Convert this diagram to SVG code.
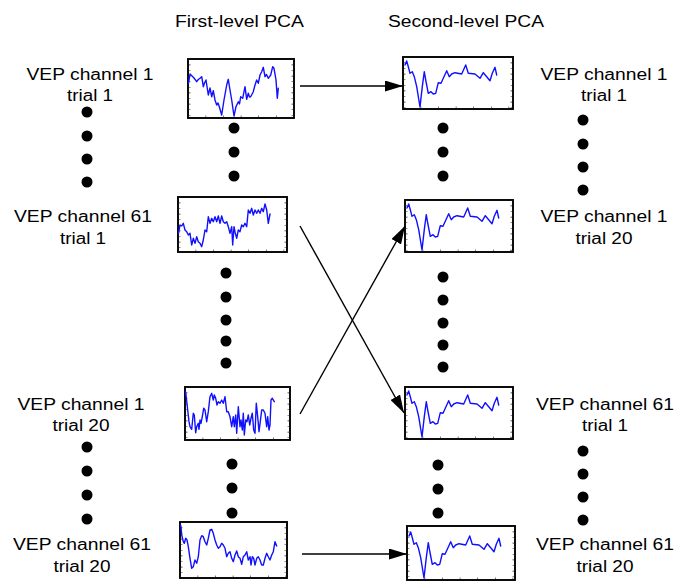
<svg xmlns="http://www.w3.org/2000/svg" xmlns:xlink="http://www.w3.org/1999/xlink" width="675" height="584" viewBox="0 0 675 584">
  <style>
    text { font-family: "Liberation Sans", Arial, sans-serif; font-size: 16px; fill: #000; text-anchor: middle; }
    .frame { fill: #fff; stroke: #000; stroke-width: 1.9; }
    .tickh { stroke: #222; stroke-width: 2; stroke-dasharray: 0.6 17; fill: none; }
    .tickv { stroke: #222; stroke-width: 2; stroke-dasharray: 0.6 5; fill: none; }
    .wave { fill: none; stroke: #1010ff; stroke-width: 1.4; stroke-linejoin: round; stroke-linecap: round; }
    .dot { fill: #000; }
    .conn { stroke: #000; stroke-width: 1.4; fill: none; marker-end: url(#head); }
  </style>
  <defs>
    <marker id="head" markerUnits="userSpaceOnUse" markerWidth="18" markerHeight="11" refX="18" refY="5.5" orient="auto">
      <path d="M0,0 L18,5.5 L0,11 Z" fill="#000"/>
    </marker>
    <!-- averaged response used in every second-level plot (local coords, 110 x 52 frame) -->
    <path id="avg" class="wave" d="M2,8 L3.7,4 L5.3,9.7 L7,16.3 L9.3,14.7 L11.3,19.7 L13.7,29.7 L17,50 L19.3,29.7 L21.3,14.7 L22.7,23 L25.3,36.3 L28,34.7 L30.3,37 L32.7,36.3 L35.3,25.7 L38,26.3 L40.3,21.3 L43.7,13.7 L46.3,19.7 L48.7,17 L52,15.7 L58.7,17 L62.7,8 L65.3,16.3 L72,17 L77,21.3 L80.3,15.7 L83.7,19.7 L87,23.7 L89.3,16.3 L92,10.3 L93.7,18"/>
  </defs>

  <!-- column headers -->
  <g id="hdr-first"><text x="239.5" y="27" textLength="129" lengthAdjust="spacingAndGlyphs">First-level PCA</text></g>
  <g id="hdr-second"><text x="466" y="27" textLength="156" lengthAdjust="spacingAndGlyphs">Second-level PCA</text></g>

  <!-- input labels (left) -->
  <g id="in-c1-t1">
    <text x="90" y="80" textLength="127" lengthAdjust="spacingAndGlyphs">VEP channel 1</text>
    <text x="90" y="101" textLength="46" lengthAdjust="spacingAndGlyphs">trial 1</text>
  </g>
  <g id="in-c61-t1">
    <text x="83" y="222" textLength="138" lengthAdjust="spacingAndGlyphs">VEP channel 61</text>
    <text x="83" y="244" textLength="46" lengthAdjust="spacingAndGlyphs">trial 1</text>
  </g>
  <g id="in-c1-t20">
    <text x="81" y="410" textLength="127" lengthAdjust="spacingAndGlyphs">VEP channel 1</text>
    <text x="81" y="431" textLength="57" lengthAdjust="spacingAndGlyphs">trial 20</text>
  </g>
  <g id="in-c61-t20">
    <text x="82" y="550" textLength="138" lengthAdjust="spacingAndGlyphs">VEP channel 61</text>
    <text x="82" y="572" textLength="57" lengthAdjust="spacingAndGlyphs">trial 20</text>
  </g>

  <!-- output labels (right) -->
  <g id="out-c1-t1">
    <text x="604" y="80" textLength="127" lengthAdjust="spacingAndGlyphs">VEP channel 1</text>
    <text x="604" y="101" textLength="46" lengthAdjust="spacingAndGlyphs">trial 1</text>
  </g>
  <g id="out-c1-t20">
    <text x="604" y="222" textLength="127" lengthAdjust="spacingAndGlyphs">VEP channel 1</text>
    <text x="604" y="244" textLength="57" lengthAdjust="spacingAndGlyphs">trial 20</text>
  </g>
  <g id="out-c61-t1">
    <text x="605" y="410" textLength="138" lengthAdjust="spacingAndGlyphs">VEP channel 61</text>
    <text x="605" y="431" textLength="46" lengthAdjust="spacingAndGlyphs">trial 1</text>
  </g>
  <g id="out-c61-t20">
    <text x="605" y="550" textLength="138" lengthAdjust="spacingAndGlyphs">VEP channel 61</text>
    <text x="605" y="572" textLength="57" lengthAdjust="spacingAndGlyphs">trial 20</text>
  </g>

  <!-- first-level plots -->
  <g id="pca1-c1-t1" transform="translate(188,59)">
    <rect class="frame" width="106" height="59"/>
    <line class="tickh" x1="0" y1="57.5" x2="106" y2="57.5"/>
    <line class="tickv" x1="1.5" y1="0" x2="1.5" y2="59"/>
    <line class="tickv" x1="104.5" y1="0" x2="104.5" y2="59"/>
    <path class="wave" d="M0.5,24.3 L2,15 L4,17 L6,19 L8.7,22.7 L10.3,20.5 L12,19.3 L13.7,17.7 L15.3,27.7 L16.5,24 L18,21 L20.3,36 L22,29 L23.7,37.7 L25.3,31.7 L27,41 L28.7,46 L30,44 L31.3,47.7 L33.7,56 L36,41 L38.7,26 L40.3,20.3 L42,31 L43.7,41 L46,57 L48,47.7 L50.3,42.7 L51.5,45 L52.7,37.7 L54.7,39.3 L57,27.7 L58.7,40.3 L60.3,34.3 L61.5,38 L62.7,37.7 L65.3,32.7 L67,26 L68.7,21 L70.3,24.3 L72,16 L73.7,12.7 L75.3,8.3 L77,17.7 L78.5,15.5 L80.3,19.3 L82.7,16 L84.7,7.7 L86,9.3 L88,21 L89.3,39.3 L90.3,29.3"/>
  </g>
  <g id="pca1-c61-t1" transform="translate(178,197)">
    <rect class="frame" width="109" height="55"/>
    <line class="tickh" x1="0" y1="53.5" x2="109" y2="53.5"/>
    <line class="tickv" x1="1.5" y1="0" x2="1.5" y2="55"/>
    <line class="tickv" x1="107.5" y1="0" x2="107.5" y2="55"/>
    <path class="wave" d="M0.5,36.3 L2,28 L3.7,29 L5.3,26.3 L7,33 L8.7,34.7 L10.3,38 L12,36.3 L13.7,48 L15.3,41.3 L17,46.3 L18.7,39.7 L20.3,44.7 L22,46.3 L23.7,49.7 L25.3,43 L27,33 L28.7,34.7 L30.3,19.7 L32,26.3 L33.7,21.3 L35.3,24.7 L37,19.7 L38.7,24.7 L40.3,19 L42,26.3 L43.7,19 L45.3,24.7 L47,26.3 L48.7,24.7 L50.3,29.7 L52,36.3 L53.7,29.7 L54.7,48 L56,29.7 L57.3,36.3 L58.7,41.3 L60.3,33 L62,34.7 L63.7,28 L65.3,29.7 L67,26.3 L68.7,29.7 L70.3,13 L72,16.3 L73.7,11.3 L75.3,18 L77,13 L78.7,16.3 L80.3,13 L82,16.3 L83.7,11.3 L85.3,14.7 L87,7 L88.7,13 L90.3,26.3 L92,17"/>
  </g>
  <g id="pca1-c1-t20" transform="translate(185,387)">
    <rect class="frame" width="105" height="53"/>
    <line class="tickh" x1="0" y1="51.5" x2="105" y2="51.5"/>
    <line class="tickv" x1="1.5" y1="0" x2="1.5" y2="53"/>
    <line class="tickv" x1="103.5" y1="0" x2="103.5" y2="53"/>
    <path class="wave" d="M0.5,4.7 L1,8 L2.7,23 L4,34.7 L5,39.7 L6.7,42.3 L8.3,26.3 L9.3,28 L10.7,45.7 L11.7,39.7 L13.3,36.3 L14,42.3 L15,33 L16,36.3 L17.3,29.7 L18.7,21.3 L20,23 L21.7,34.7 L23.3,24.7 L25,9.7 L26.7,6.3 L28.3,13 L29.3,8 L30.7,11.3 L32,18 L33.3,14.7 L35,16.3 L36.7,13 L38.3,16.3 L40,9.7 L41.7,24.7 L43.3,24.7 L45,29.7 L46.7,39.7 L48.3,29.7 L49.3,39.7 L50.7,28 L51.7,46.3 L53.3,19.7 L55,39.7 L56,33 L57.3,43 L58.3,26.3 L59.3,48 L60.7,33 L62,34.7 L63.3,28 L64.7,38 L66,31.3 L67.3,26.3 L68.7,43 L70,46.3 L71.3,16.3 L72.7,29.7 L74,44.7 L75.3,34.7 L76.7,23 L78.3,23 L80,26.3 L81.7,39.7 L82.7,29.7 L84,43 L85,38 L86,13 L87.3,11.3 L89.3,14.7"/>
  </g>
  <g id="pca1-c61-t20" transform="translate(180,522)">
    <rect class="frame" width="107" height="56"/>
    <line class="tickh" x1="0" y1="54.5" x2="107" y2="54.5"/>
    <line class="tickv" x1="1.5" y1="0" x2="1.5" y2="56"/>
    <line class="tickv" x1="105.5" y1="0" x2="105.5" y2="56"/>
    <path class="wave" d="M0.5,3 L1,4.7 L1.7,13 L3.3,19.7 L4.3,21.3 L5.7,16.3 L7,18 L8.3,24.7 L10,36.3 L11.7,46.3 L13.3,44.7 L15,38 L16.7,41.3 L18.3,34.7 L20,18 L21.7,13.7 L23.3,14.7 L25,19.7 L26.7,23 L28.3,16.3 L30,8 L31.7,7.3 L33.3,11.3 L35,18 L36.7,23 L38.3,26.3 L40,24.7 L41.7,21.3 L43.3,23 L45,26.3 L46.7,34.7 L48.3,31.3 L50,29.7 L51.7,36.3 L53.3,39.7 L55,33 L56.7,29 L58.3,34.7 L60,36.3 L61.7,42.3 L63.3,34.7 L65,33 L66.7,29.7 L68.3,38 L70,34.7 L71,43 L72.3,34.7 L73.7,36.3 L75,43 L76.7,36.3 L78.3,34.7 L80,38 L81.7,43 L83.3,43 L85,36.3 L86.7,31.3 L88.3,34.7 L90,38 L91.7,33 L93.3,29.7 L95,19.7 L96.7,24"/>
  </g>

  <!-- second-level plots -->
  <g id="pca2-c1-t1" transform="translate(403,57)">
    <rect class="frame" width="110" height="52"/>
    <line class="tickh" x1="0" y1="50.5" x2="110" y2="50.5"/>
    <line class="tickv" x1="1.5" y1="0" x2="1.5" y2="52"/>
    <line class="tickv" x1="108.5" y1="0" x2="108.5" y2="52"/>
    <use xlink:href="#avg"/>
  </g>
  <g id="pca2-c1-t20" transform="translate(405,200)">
    <rect class="frame" width="108" height="52"/>
    <line class="tickh" x1="0" y1="50.5" x2="108" y2="50.5"/>
    <line class="tickv" x1="1.5" y1="0" x2="1.5" y2="52"/>
    <line class="tickv" x1="106.5" y1="0" x2="106.5" y2="52"/>
    <use xlink:href="#avg"/>
  </g>
  <g id="pca2-c61-t1" transform="translate(405,387)">
    <rect class="frame" width="108" height="52"/>
    <line class="tickh" x1="0" y1="50.5" x2="108" y2="50.5"/>
    <line class="tickv" x1="1.5" y1="0" x2="1.5" y2="52"/>
    <line class="tickv" x1="106.5" y1="0" x2="106.5" y2="52"/>
    <use xlink:href="#avg"/>
  </g>
  <g id="pca2-c61-t20" transform="translate(407,526)">
    <rect class="frame" width="108" height="54"/>
    <line class="tickh" x1="0" y1="52.5" x2="108" y2="52.5"/>
    <line class="tickv" x1="1.5" y1="0" x2="1.5" y2="54"/>
    <line class="tickv" x1="106.5" y1="0" x2="106.5" y2="54"/>
    <use xlink:href="#avg" transform="translate(0,2)"/>
  </g>

  <!-- ellipsis dots -->
  <g id="dots-in-top"><circle class="dot" cx="87" cy="112" r="5.5"/><circle class="dot" cx="87" cy="136" r="5.5"/><circle class="dot" cx="87" cy="159" r="5.5"/><circle class="dot" cx="87" cy="182" r="5.5"/></g>
  <g id="dots-in-bottom"><circle class="dot" cx="87" cy="447" r="5.5"/><circle class="dot" cx="87" cy="471" r="5.5"/><circle class="dot" cx="87" cy="495" r="5.5"/><circle class="dot" cx="87" cy="519" r="5.5"/></g>
  <g id="dots-pca1-top"><circle class="dot" cx="234" cy="128" r="5.5"/><circle class="dot" cx="234" cy="152" r="5.5"/><circle class="dot" cx="234" cy="176" r="5.5"/></g>
  <g id="dots-pca1-mid"><circle class="dot" cx="226" cy="273" r="5.5"/><circle class="dot" cx="226" cy="297" r="5.5"/><circle class="dot" cx="226" cy="320" r="5.5"/><circle class="dot" cx="226" cy="341" r="5.5"/><circle class="dot" cx="226" cy="363" r="5.5"/></g>
  <g id="dots-pca1-bottom"><circle class="dot" cx="232" cy="464" r="5.5"/><circle class="dot" cx="232" cy="488" r="5.5"/><circle class="dot" cx="232" cy="513" r="5.5"/></g>
  <g id="dots-pca2-top"><circle class="dot" cx="443" cy="128" r="5.5"/><circle class="dot" cx="443" cy="152" r="5.5"/><circle class="dot" cx="443" cy="176" r="5.5"/></g>
  <g id="dots-pca2-mid"><circle class="dot" cx="443" cy="277" r="5.5"/><circle class="dot" cx="443" cy="300" r="5.5"/><circle class="dot" cx="443" cy="323" r="5.5"/><circle class="dot" cx="443" cy="345" r="5.5"/><circle class="dot" cx="443" cy="367" r="5.5"/></g>
  <g id="dots-pca2-bottom"><circle class="dot" cx="438" cy="465" r="5.5"/><circle class="dot" cx="438" cy="489" r="5.5"/><circle class="dot" cx="438" cy="513" r="5.5"/></g>
  <g id="dots-out-top"><circle class="dot" cx="583" cy="120" r="5.5"/><circle class="dot" cx="583" cy="144" r="5.5"/><circle class="dot" cx="583" cy="167" r="5.5"/><circle class="dot" cx="583" cy="190" r="5.5"/></g>
  <g id="dots-out-bottom"><circle class="dot" cx="583" cy="451" r="5.5"/><circle class="dot" cx="583" cy="474" r="5.5"/><circle class="dot" cx="583" cy="497" r="5.5"/><circle class="dot" cx="583" cy="520" r="5.5"/></g>

  <!-- connectors -->
  <g id="connectors">
    <line class="conn" x1="300" y1="86" x2="403" y2="86"/>
    <line class="conn" x1="300" y1="226" x2="404" y2="413"/>
    <line class="conn" x1="300" y1="414" x2="405" y2="226"/>
    <line class="conn" x1="302" y1="554" x2="407" y2="554"/>
  </g>
</svg>
